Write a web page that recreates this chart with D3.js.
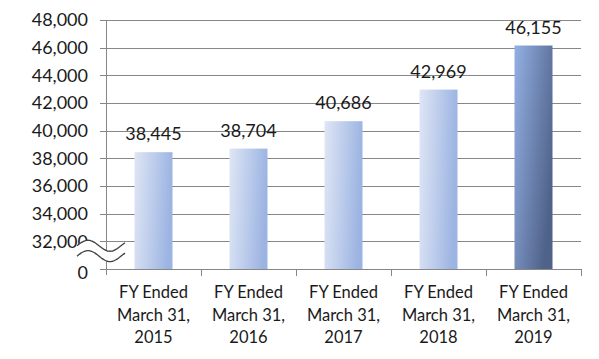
<!DOCTYPE html>
<html><head><meta charset="utf-8">
<script src="https://cdn.jsdelivr.net/npm/d3@7/dist/d3.min.js"></script>
<style>html,body{margin:0;padding:0;background:#fff;}svg{display:block;}</style>
</head><body>
<svg id="chart" width="599" height="359"></svg>
<script>
const categories = [
  ["FY Ended","March 31,","2015"],
  ["FY Ended","March 31,","2016"],
  ["FY Ended","March 31,","2017"],
  ["FY Ended","March 31,","2018"],
  ["FY Ended","March 31,","2019"]
];
const values = [38445, 38704, 40686, 42969, 46155];
const valueLabels = ["38,445","38,704","40,686","42,969","46,155"];
const tickValues = [30000,32000,34000,36000,38000,40000,42000,44000,46000,48000];
const tickLabels = ["0","32,000","34,000","36,000","38,000","40,000","42,000","44,000","46,000","48,000"];

(function() {
const svg = d3.select("#chart");
const mLeft = 106, mRight = 581, mTop = 20, mBottom = 269;
const font = "Lato, 'Open Sans', sans-serif";
const textColor = "#1a1a1a";
const gridColor = "#878787";

const x = d3.scaleBand().domain(d3.range(categories.length)).range([mLeft, mRight]).paddingInner(0.6).paddingOuter(0.3);
const y = d3.scaleLinear().domain([30000, 48000]).range([mBottom, mTop]);

const defs = svg.append("defs");
const g1 = defs.append("linearGradient").attr("id","gLight").attr("x1",0).attr("y1",0).attr("x2",1).attr("y2",0.15);
g1.append("stop").attr("offset","0%").attr("stop-color","#dfe6f5");
g1.append("stop").attr("offset","100%").attr("stop-color","#9cb4e2");
const g2 = defs.append("linearGradient").attr("id","gDark").attr("x1",0).attr("y1",0).attr("x2",1).attr("y2",0.6);
g2.append("stop").attr("offset","0%").attr("stop-color","#94b0e4");
g2.append("stop").attr("offset","100%").attr("stop-color","#4f6289");

// gridlines
svg.append("g").selectAll("line").data(tickValues).join("line")
  .attr("x1", mLeft - 6).attr("x2", mRight)
  .attr("y1", d => Math.round(y(d)) + 0.5).attr("y2", d => Math.round(y(d)) + 0.5)
  .attr("stroke", gridColor).attr("stroke-width", 1);

// y axis line
svg.append("line").attr("x1", mLeft + 0.5).attr("x2", mLeft + 0.5)
  .attr("y1", mTop).attr("y2", mBottom + 6).attr("stroke", gridColor);

// category ticks
const bounds = d3.range(categories.length + 1).map(i => mLeft + i * x.step());
svg.append("g").selectAll("line").data(bounds.slice(1)).join("line")
  .attr("x1", d => Math.round(d) + 0.5).attr("x2", d => Math.round(d) + 0.5)
  .attr("y1", mBottom).attr("y2", mBottom + 7).attr("stroke", gridColor);

// y tick labels
svg.append("g").selectAll("text").data(tickValues).join("text")
  .attr("x", mLeft - 18).attr("y", (d, i) => y(d) + (i === 0 ? 4 : 0)).attr("dy", "0.36em")
  .attr("text-anchor", "end").attr("font-family", font).attr("font-size", 18)
  .attr("fill", textColor).text((d, i) => tickLabels[i]);

// bars
svg.append("g").selectAll("rect").data(values).join("rect")
  .attr("x", (d, i) => x(i)).attr("width", x.bandwidth())
  .attr("y", d => y(d)).attr("height", d => y(30000) - y(d))
  .attr("fill", (d, i) => i === values.length - 1 ? "url(#gDark)" : "url(#gLight)");

// value labels
svg.append("g").selectAll("text").data(values).join("text")
  .attr("x", (d, i) => x(i) + x.bandwidth() / 2).attr("y", d => y(d) - 12)
  .attr("text-anchor", "middle").attr("font-family", font).attr("font-size", 18)
  .attr("fill", textColor).text((d, i) => valueLabels[i]);

// category labels
const cat = svg.append("g").selectAll("text").data(categories).join("text")
  .attr("x", (d, i) => x(i) + x.bandwidth() / 2)
  .attr("text-anchor", "middle").attr("font-family", font).attr("font-size", 16.5)
  .attr("fill", textColor);
cat.selectAll("tspan").data(d => d).join("tspan")
  .attr("x", function() { return this.parentNode.getAttribute("x"); })
  .attr("y", (d, j) => mBottom + 29 + j * 22.5)
  .text(d => d);

// axis break
const yc1 = y(31680), yc2 = y(30930), A = 5.5, x0 = mLeft - 29;
const wave = yc => d3.range(0, 48.01, 1).map(t => [x0 + t, yc - A * Math.sin(2 * Math.PI * t / 44)]);
const w1 = wave(yc1), w2 = wave(yc2);
const line = d3.line().curve(d3.curveCatmullRom);
svg.append("path").attr("d", line(w1.concat(w2.slice().reverse())) + "Z").attr("fill", "#fff");
svg.append("path").attr("d", line(w1)).attr("fill", "none").attr("stroke", "#404040").attr("stroke-width", 1.3);
svg.append("path").attr("d", line(w2)).attr("fill", "none").attr("stroke", "#404040").attr("stroke-width", 1.3);
})();
</script>
</body></html>
